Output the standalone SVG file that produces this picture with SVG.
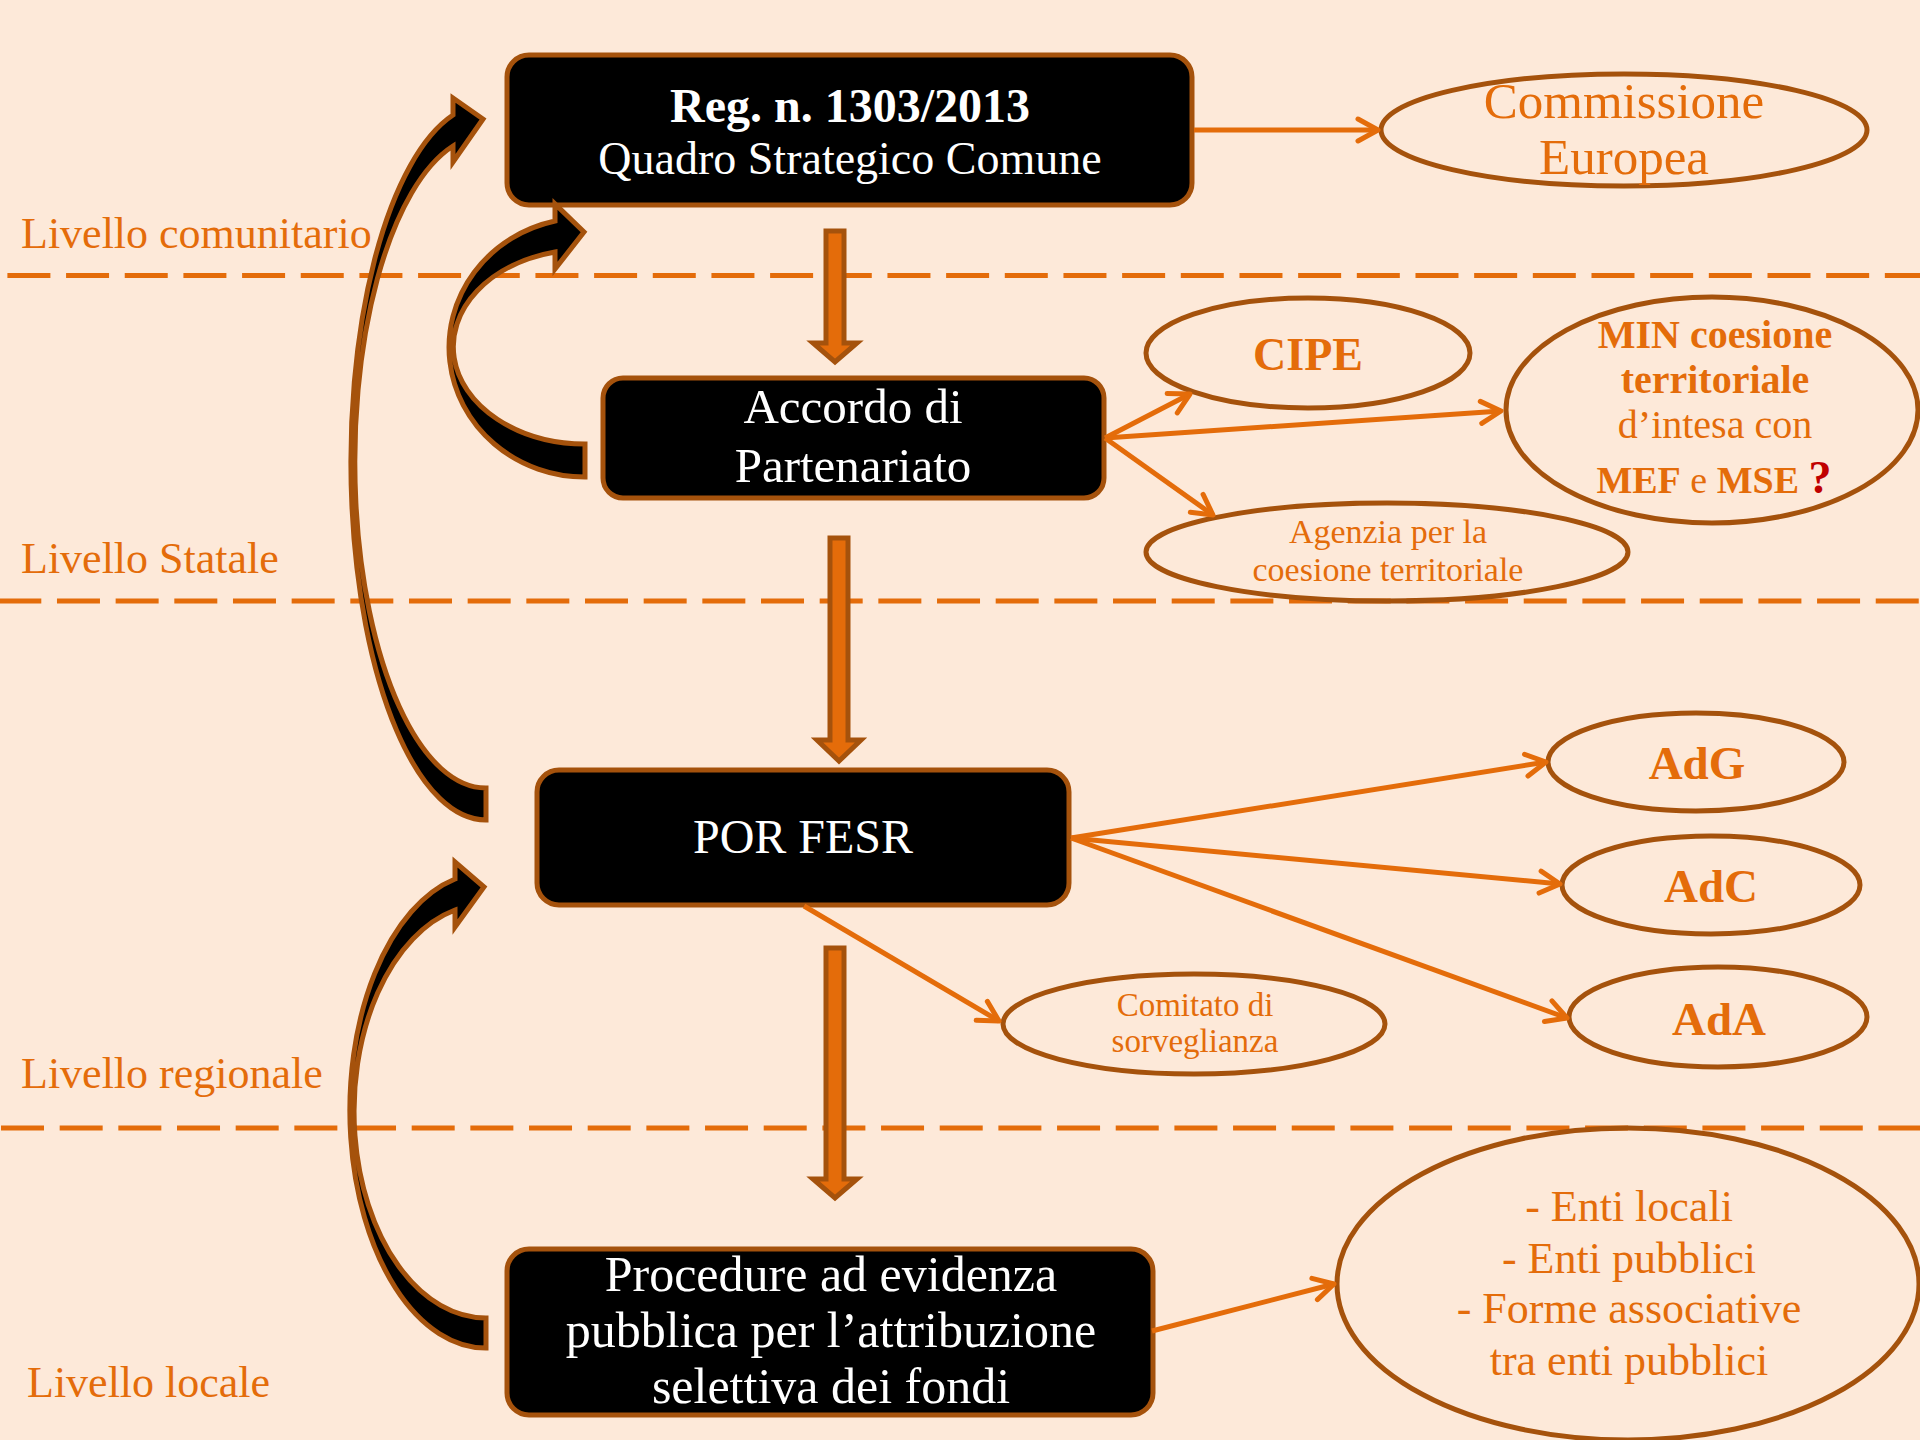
<svg xmlns="http://www.w3.org/2000/svg" width="1920" height="1440" viewBox="0 0 1920 1440">
<defs>
<style>
.bg{fill:#FDE9D9}
.dash{stroke:#E46C0A;stroke-width:5;stroke-dasharray:43 15.67;fill:none}
.lvl{font-family:"Liberation Serif","Times New Roman",serif;font-size:44px;fill:#E46C0A}
.box{fill:#000;stroke:#A5520C;stroke-width:5}
.bt{font-family:"Liberation Serif","Times New Roman",serif;fill:#fff;text-anchor:middle}
.ell{fill:none;stroke:#A5520C;stroke-width:5}
.et{font-family:"Liberation Serif","Times New Roman",serif;fill:#E46C0A;text-anchor:middle}
.b{font-weight:bold}
.con{stroke:#E46C0A;stroke-width:5;fill:none;marker-end:url(#arr)}
.blk{fill:#E46C0A;stroke:#A5520C;stroke-width:5;stroke-linejoin:miter}
.crv{fill:#000;stroke:#A5520C;stroke-width:5;stroke-linejoin:miter}
</style>
<marker id="arr" viewBox="-24 -14 28 28" refX="0" refY="0" markerWidth="28" markerHeight="28" markerUnits="userSpaceOnUse" orient="auto">
<path d="M-20,-11 L0,0 L-20,11" fill="none" stroke="#E46C0A" stroke-width="5" stroke-linecap="round" stroke-linejoin="round"/>
</marker>
</defs>
<rect class="bg" x="0" y="0" width="1920" height="1440"/>

<g id="separators">
<line class="dash" x1="7.4" y1="275.5" x2="1920" y2="275.5"/>
<line class="dash" x1="-1.7" y1="601" x2="1920" y2="601"/>
<line class="dash" x1="1" y1="1128" x2="1920" y2="1128"/>
</g>

<g id="levels">
<text class="lvl" x="21" y="248">Livello comunitario</text>
<text class="lvl" x="21" y="573">Livello Statale</text>
<text class="lvl" x="21" y="1088">Livello regionale</text>
<text class="lvl" x="27" y="1397">Livello locale</text>
</g>

<g id="node-reg">
<rect class="box" x="507" y="55" width="685" height="150" rx="22"/>
<text class="bt b" x="850" y="122" font-size="48">Reg. n. 1303/2013</text>
<text class="bt" x="850" y="174" font-size="46">Quadro Strategico Comune</text>
</g>

<g id="node-accordo">
<rect class="box" x="603" y="378" width="501" height="120" rx="20"/>
<text class="bt" x="853" y="423" font-size="49">Accordo di</text>
<text class="bt" x="853" y="482" font-size="49">Partenariato</text>
</g>

<g id="node-por">
<rect class="box" x="537" y="770" width="532" height="135" rx="22"/>
<text class="bt" x="803" y="853" font-size="48">POR FESR</text>
</g>

<g id="node-procedure">
<rect class="box" x="507" y="1249" width="646" height="166" rx="22"/>
<text class="bt" x="831" y="1291" font-size="50">Procedure ad evidenza</text>
<text class="bt" x="831" y="1347" font-size="50">pubblica per l’attribuzione</text>
<text class="bt" x="831" y="1403" font-size="50">selettiva dei fondi</text>
</g>

<g id="node-commissione">
<ellipse class="ell" cx="1624" cy="130" rx="243" ry="56"/>
<text class="et" x="1624" y="118" font-size="51">Commissione</text>
<text class="et" x="1624" y="174" font-size="51">Europea</text>
</g>

<g id="node-cipe">
<ellipse class="ell" cx="1308" cy="353" rx="162" ry="55"/>
<text class="et b" x="1308" y="370" font-size="46">CIPE</text>
</g>

<g id="node-min">
<ellipse class="ell" cx="1712" cy="410" rx="206" ry="113"/>
<text class="et b" x="1715" y="348" font-size="40">MIN coesione</text>
<text class="et b" x="1715" y="393" font-size="40">territoriale</text>
<text class="et" x="1715" y="438" font-size="40">d’intesa con</text>
<text class="et" x="1714" y="493" font-size="38"><tspan class="b">MEF</tspan> e <tspan class="b">MSE</tspan> <tspan class="b" fill="#C00000" font-size="46">?</tspan></text>
</g>

<g id="node-agenzia">
<ellipse class="ell" cx="1387" cy="552" rx="241" ry="49"/>
<text class="et" x="1388" y="543" font-size="34">Agenzia per la</text>
<text class="et" x="1388" y="581" font-size="34">coesione territoriale</text>
</g>

<g id="node-adg">
<ellipse class="ell" cx="1696" cy="762" rx="148" ry="49"/>
<text class="et b" x="1697" y="779" font-size="47">AdG</text>
</g>

<g id="node-adc">
<ellipse class="ell" cx="1711" cy="885" rx="149" ry="49"/>
<text class="et b" x="1711" y="902" font-size="47">AdC</text>
</g>

<g id="node-ada">
<ellipse class="ell" cx="1718" cy="1017" rx="149" ry="50"/>
<text class="et b" x="1719" y="1035" font-size="47">AdA</text>
</g>

<g id="node-comitato">
<ellipse class="ell" cx="1194" cy="1024" rx="191" ry="50"/>
<text class="et" x="1195" y="1016" font-size="33">Comitato di</text>
<text class="et" x="1195" y="1052" font-size="33">sorveglianza</text>
</g>

<g id="node-enti">
<ellipse class="ell" cx="1628" cy="1284" rx="291" ry="156"/>
<text class="et" x="1629" y="1221" font-size="44">- Enti locali</text>
<text class="et" x="1629" y="1273" font-size="44">- Enti pubblici</text>
<text class="et" x="1629" y="1323" font-size="44">- Forme associative</text>
<text class="et" x="1629" y="1375" font-size="44">tra enti pubblici</text>
</g>

<g id="connectors">
<line class="con" x1="1194" y1="130" x2="1378" y2="130"/>
<line class="con" x1="1105" y1="438" x2="1190" y2="394"/>
<line class="con" x1="1105" y1="438" x2="1501" y2="411"/>
<line class="con" x1="1105" y1="438" x2="1213" y2="515"/>
<line class="con" x1="1071" y1="838" x2="1546" y2="762"/>
<line class="con" x1="1071" y1="838" x2="1560" y2="884"/>
<line class="con" x1="1071" y1="838" x2="1567" y2="1018"/>
<line class="con" x1="804" y1="906" x2="999" y2="1021"/>
<line class="con" x1="1152" y1="1331" x2="1334" y2="1284"/>
<path class="blk" d="M826,231 H844 V343 H857 L835,362 L813,343 H826 Z"/>
<path class="blk" d="M830,538 H848 V740 H861 L839,761 L817,740 H830 Z"/>
<path class="blk" d="M826,948 H844 V1179 H857 L835,1198 L813,1179 H826 Z"/>
<path class="crv" d="M486,788 L486,820 A135,357.9 0 0 1 453,115 L453,98 L483,119 L453,162 L453,146 A131,326.2 0 0 0 486,788 Z"/>
<path class="crv" d="M585,444 L585,477 A136,129.6 0 0 1 555,221 L555,204 L584,232 L555,269 L555,252 A132,97.3 0 0 0 585,444 Z"/>
<path class="crv" d="M486,1318 L486,1348 A136,237.6 0 0 1 455,879 L455,862 L484,887 L455,927 L455,910 A132,206.9 0 0 0 486,1318 Z"/>
</g>
</svg>
